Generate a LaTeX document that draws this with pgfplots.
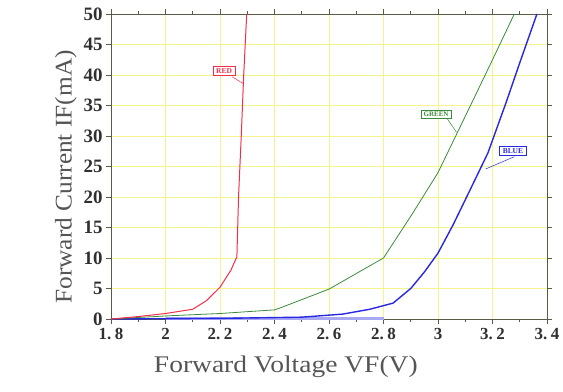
\documentclass[border=0pt]{standalone}
\usepackage{pgfplots}
\pgfplotsset{compat=1.18}
\usepackage{fontspec}
\setmainfont{Liberation Serif}
\definecolor{gridy}{HTML}{F4F48C}
\definecolor{redc}{HTML}{F0304A}
\definecolor{greenc}{HTML}{3C8A3C}
\definecolor{bluec}{HTML}{2828E0}
\definecolor{framec}{HTML}{5A5A48}
\definecolor{tickc}{HTML}{303030}
\definecolor{labc}{HTML}{555555}
\newcommand{\dt}{.\hspace{3.5bp}}
\begin{document}
\begin{tikzpicture}
\useasboundingbox (0,0) rectangle (563bp,392bp);
\begin{axis}[
  at={(111bp,73bp)}, anchor=south west,
  scale only axis, width=436bp, height=305bp,
  xmin=1.8, xmax=3.4, ymin=0, ymax=50,
  xtick={1.8,2,2.2,2.4,2.6,2.8,3,3.2,3.4},
  xticklabels={1\dt8,2,2\dt2,2\dt4,2\dt6,2\dt8,3,3\dt2,3\dt4},
  ytick={0,5,...,50},
  minor x tick num=1,
  xmajorgrids, ymajorgrids,
  major grid style={gridy, line width=0.8pt},
  axis line style={framec, line width=1pt},
  axis background/.style={fill=white},
  tick style={framec, line width=0.6pt},
  tick align=outside,
  major tick length=5bp, minor tick length=3bp,
  x tick label style={font=\fontsize{17}{17}\selectfont\bfseries, text=tickc, yshift=-1bp},
  y tick label style={font=\fontsize{19}{19}\selectfont\bfseries, text=tickc},
  /pgf/number format/assume math mode=true,
  xlabel={\scalebox{1.15}[1]{Forward Voltage VF(V)}},
  ylabel={\scalebox{1.06}[1]{Forward Current IF(mA)}},
  xlabel style={at={(ticklabel cs:0.401)}, font=\fontsize{24}{24}\selectfont, text=labc, yshift=-9bp},
  ylabel style={at={(ticklabel cs:0.466)}, font=\fontsize{24}{24}\selectfont, text=labc, yshift=0bp},
  clip=false,
]
% BLUE
\addplot[bluec!40, line width=3pt] coordinates {(2.0,0.1) (2.8,0.1)};
\addplot[bluec, line width=1.4pt] coordinates {
(1.8,0) (2.2,0.1) (2.5,0.3) (2.65,0.8) (2.75,1.6) (2.835,2.6) (2.9,5) (2.95,7.7)
(3.0,10.8) (3.055,15.4) (3.117,21.1) (3.183,27.2) (3.25,35.5) (3.3,42) (3.363,50)};
% GREEN
\addplot[greenc, line width=0.8pt] coordinates {
(1.8,0) (2.0,0.5) (2.2,0.9) (2.4,1.5) (2.42,1.8) (2.6,4.9) (2.8,10)
(2.908,17.4) (3.0,24) (3.13,36) (3.2,42.5) (3.28,50)};
% RED
\addplot[redc, line width=1pt] coordinates {
(1.8,0) (1.9,0.4) (2.0,0.9) (2.1,1.6) (2.15,3) (2.2,5.2) (2.24,8) (2.262,10.2)
(2.268,20) (2.278,30) (2.287,40) (2.298,50)};
% labels
\draw[redc, line width=0.5pt] (axis cs:2.245,39.7) -- (axis cs:2.285,38.6);
\node[draw=redc, fill=white, text=redc, font=\fontsize{7.5}{7.5}\selectfont\bfseries, inner xsep=3pt, inner ysep=2pt, line width=0.7pt] at (axis cs:2.215,40.7) {RED};
\draw[greenc, line width=0.5pt] (axis cs:3.033,32.9) -- (axis cs:3.068,30.6);
\node[draw=greenc, fill=white, text=greenc, font=\fontsize{7}{7}\selectfont\bfseries, inner xsep=2.5pt, inner ysep=1.5pt, line width=0.7pt] at (axis cs:2.993,33.6) {GREEN};
\draw[bluec, line width=0.5pt] (axis cs:3.28,26.6) -- (axis cs:3.175,24.6);
\node[draw=bluec, fill=white, text=bluec, font=\fontsize{7.5}{7.5}\selectfont\bfseries, inner xsep=3pt, inner ysep=2pt, line width=0.7pt] at (axis cs:3.275,27.5) {BLUE};
\end{axis}
\end{tikzpicture}
\end{document}
